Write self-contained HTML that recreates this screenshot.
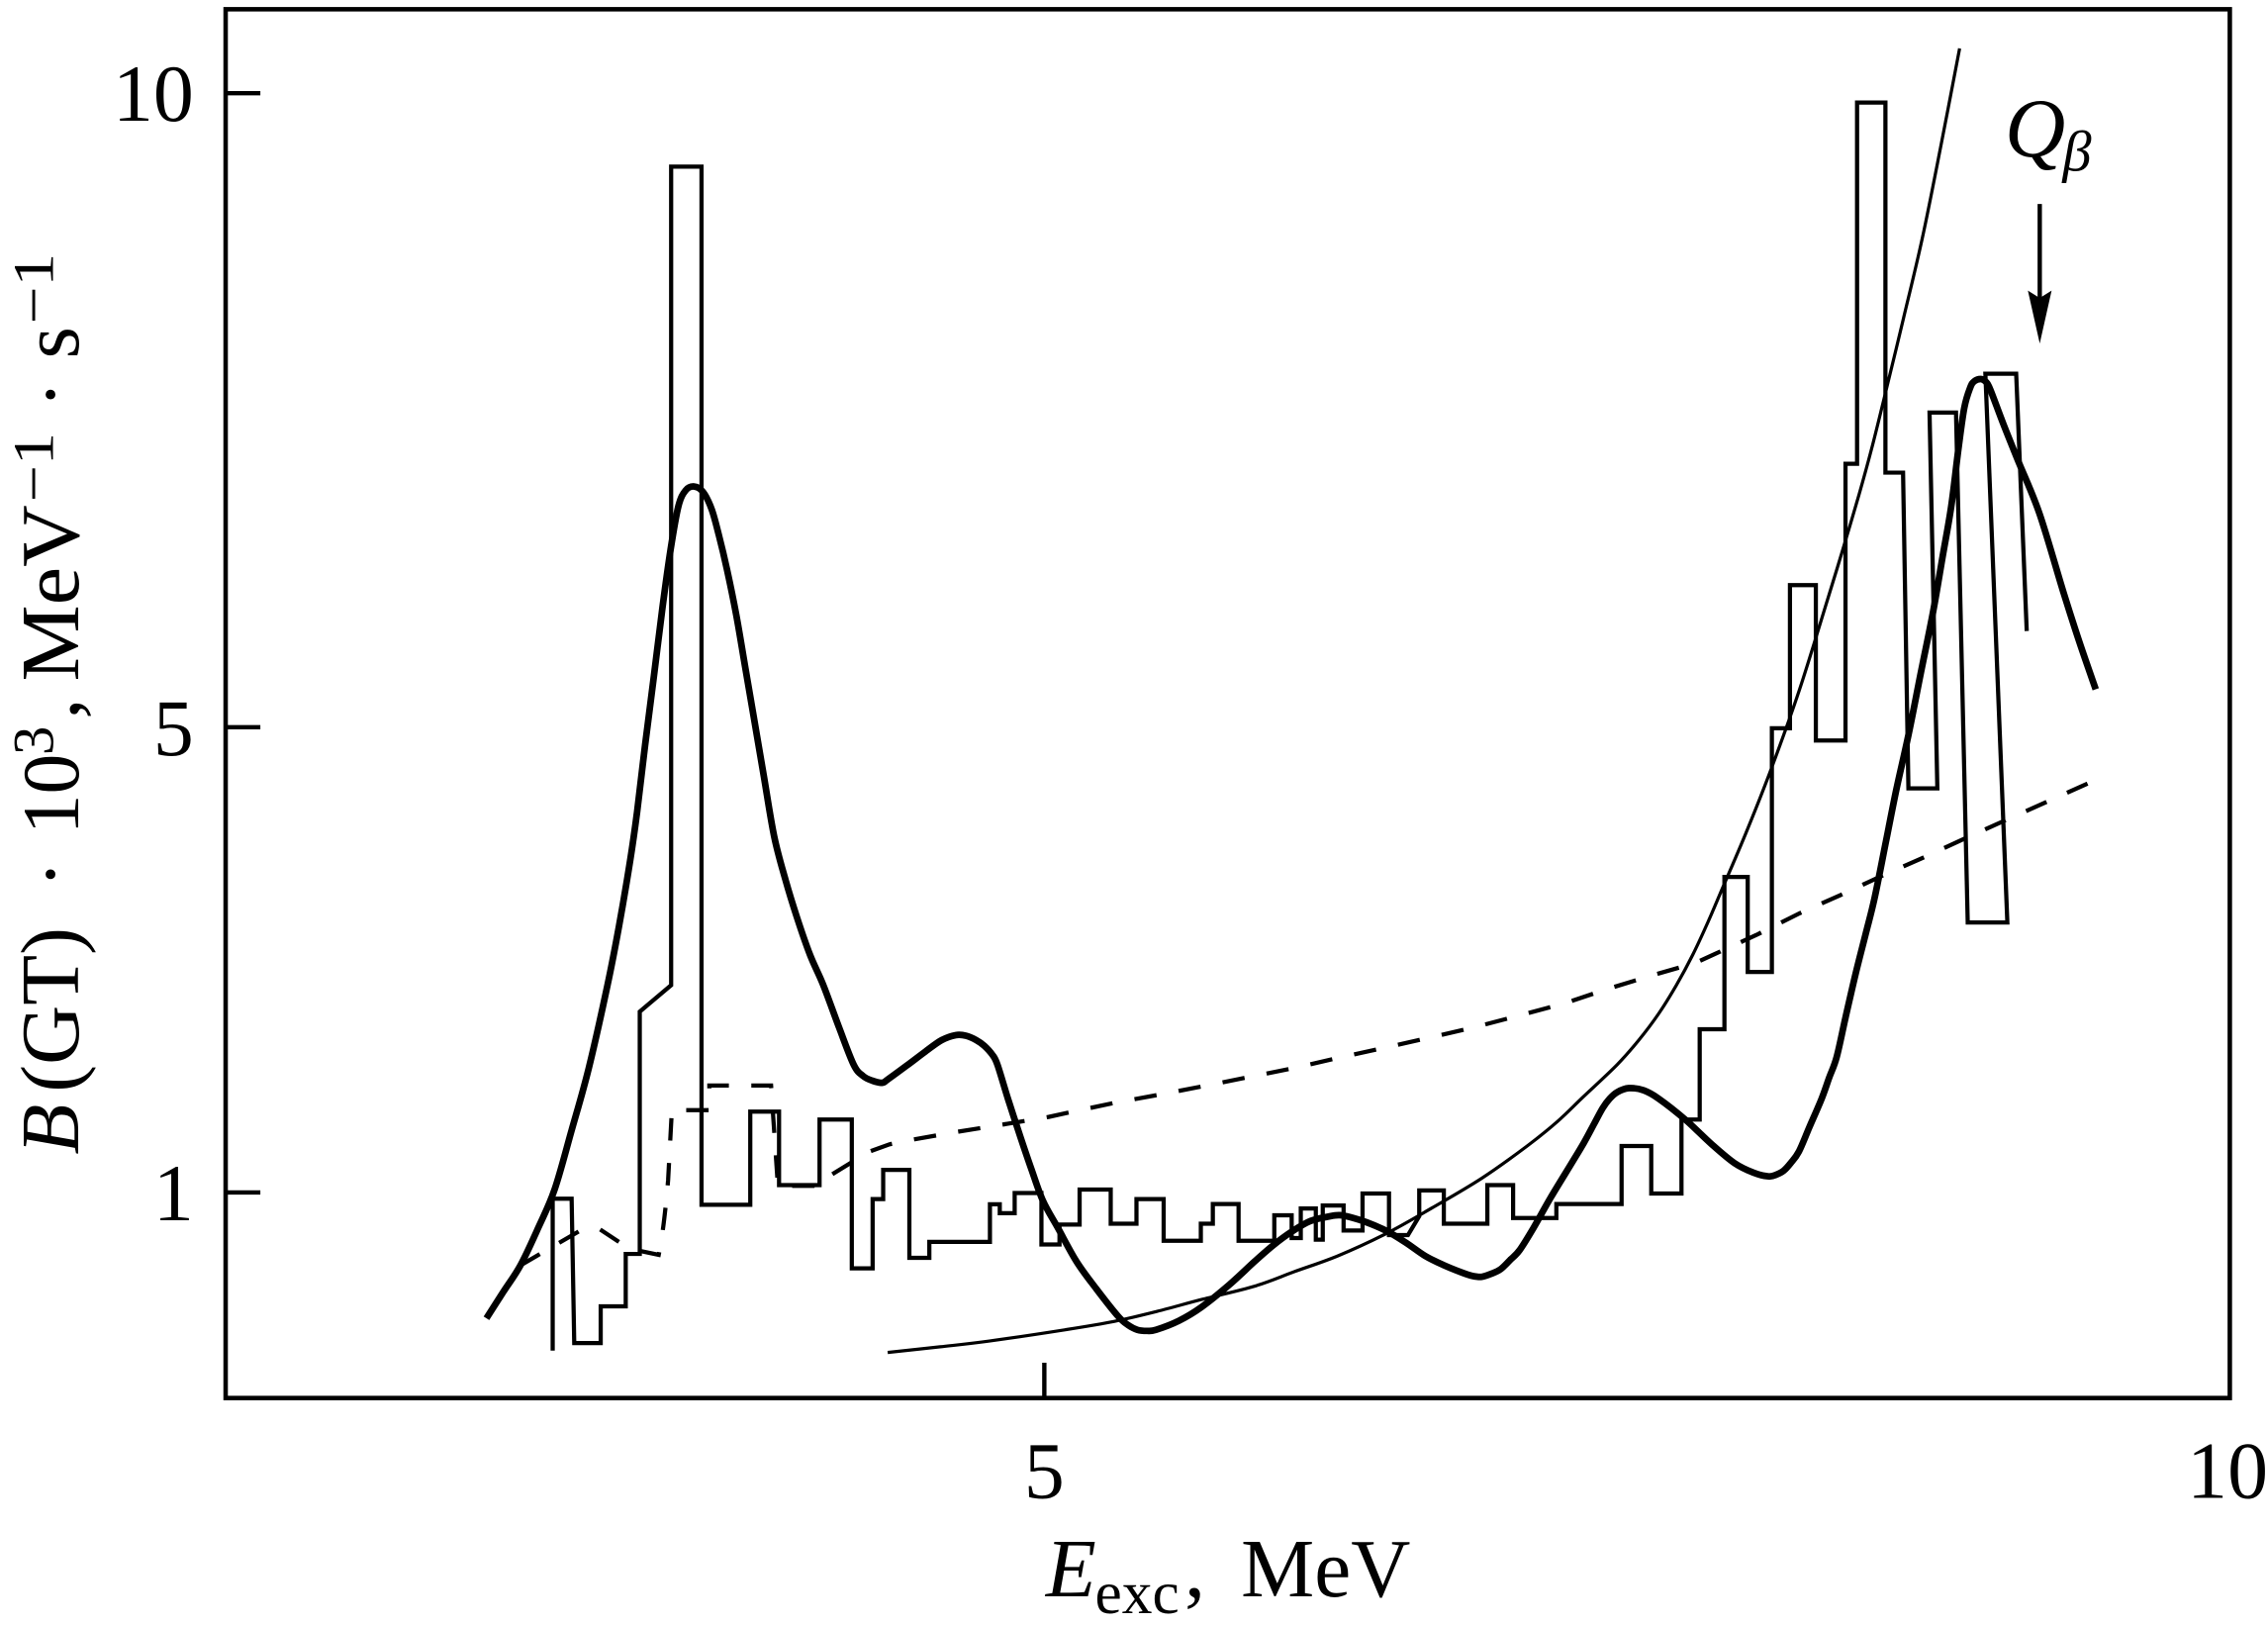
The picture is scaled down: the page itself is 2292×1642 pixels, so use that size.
<!DOCTYPE html>
<html>
<head>
<meta charset="utf-8">
<style>
html,body{margin:0;padding:0;background:#fff;}
svg{display:block;}
text{font-family:"Liberation Serif",serif;fill:#000;}
</style>
</head>
<body>
<svg id="chart" width="2292" height="1642" viewBox="0 0 1568 1123.3" preserveAspectRatio="none" xmlns="http://www.w3.org/2000/svg">
<rect x="0" y="0" width="1568" height="1123.3" fill="#fff"/>
<!-- frame -->
<rect x="156" y="6.4" width="1385.6" height="960" fill="none" stroke="#000" stroke-width="3.1"/>
<!-- ticks -->
<g stroke="#000" stroke-width="3">
<line x1="156" y1="64.4" x2="180" y2="64.4"/>
<line x1="156" y1="502.7" x2="180" y2="502.7"/>
<line x1="156" y1="824.3" x2="180" y2="824.3"/>
<line x1="722" y1="942" x2="722" y2="966"/>
</g>
<!-- tick labels -->
<g font-size="56">
<text x="134" y="83.5" text-anchor="end">10</text>
<text x="134" y="522" text-anchor="end">5</text>
<text x="134" y="843.5" text-anchor="end">1</text>
<text x="722" y="1035.3" text-anchor="middle">5</text>
<text x="1540" y="1035.3" text-anchor="middle">10</text>
</g>
<!-- x label -->
<text x="723" y="1103.6" font-size="57" font-style="italic">E</text>
<text x="757" y="1115" font-size="42">exc</text>
<text x="819" y="1103.6" font-size="57">,</text>
<text x="858" y="1103.6" font-size="57">MeV</text>
<!-- y label -->
<g transform="rotate(-90)">
<text x="-798" y="54" font-size="57" font-style="italic">B</text>
<text x="-755" y="54" font-size="57">(GT)</text>
<text x="-604.3" y="54" font-size="57" text-anchor="middle">·</text>
<text x="-577" y="54" font-size="56">10</text>
<text x="-522" y="36.6" font-size="40">3</text>
<text x="-497" y="54" font-size="57">,</text>
<text x="-471" y="54" font-size="57" textLength="122" lengthAdjust="spacingAndGlyphs">MeV</text>
<text x="-347" y="36.6" font-size="40" textLength="48" lengthAdjust="spacingAndGlyphs">−1</text>
<text x="-272.7" y="54" font-size="57" text-anchor="middle">·</text>
<text x="-248" y="54" font-size="57">s</text>
<text x="-224" y="36.6" font-size="40" textLength="49" lengthAdjust="spacingAndGlyphs">−1</text>
</g>
<!-- Q beta -->
<text x="1386" y="108" font-size="58" font-style="italic">Q</text>
<text x="1426" y="118" font-size="40" font-style="italic">β</text>
<line x1="1410.2" y1="141" x2="1410.2" y2="210" stroke="#000" stroke-width="3"/>
<polygon points="1402,200.9 1410.2,206 1418.4,200.9 1410.2,237.5" fill="#000"/>

<!-- histogram -->
<path fill="none" stroke="#000" stroke-width="2.9" stroke-linejoin="miter" d="M382.1,933.6 V828.6 H395.2 L397,928.4 H415.3 V903 H432.6 V866.8 H442.3 V699.3 L464,681 V115.2 H485 V832.8 H518.7 V768.4 H538.6 V819.2 H566.6 V773.9 H588.9 V876.8 H603.3 V828.9 H610.6 V808.7 H628.7 V869.5 H642.5 V858.5 H684.4 V832.5 H691.2 V838.6 H701.5 V824.7 H720 V860.3 H732.5 V846.5 H746.4 V822.3 H767.9 V845.9 H785.7 V828.9 H804.5 V857.7 H830.2 V845.9 H838.5 V832.3 H856.3 V857.7 H881 V840.1 H893 V855.8 H899.3 V835.4 H909.7 V856.9 H914.5 V833.3 H928.9 V850.6 H942 V825 H960.3 V853.8 H973.4 L981.2,840.7 V822.9 H998.2 V845.9 H1028.3 V819.2 H1046.1 V842 H1076 V832.3 H1121.1 V792.2 H1141.6 V825 H1162.5 V773.9 H1175.1 V711.5 H1192.2 V606.2 H1208.3 V671.9 H1225 V503.4 H1237.5 V404.5 H1255.4 V511.9 H1275.9 V320.6 H1283.9 V70.9 H1303.5 V326.7 H1315.7 L1319.4,545 H1339.4 L1334,285.2 H1352.3 L1360.4,637.7 H1387.8 L1372.6,258.3 H1393.9 L1401.2,436.2"/>

<!-- thin curve -->
<polyline class="smooth" fill="none" stroke="#000" stroke-width="2.2" stroke-linejoin="round" points="613.7,934.9 650,931 684,927 736.5,919.2 770.5,913.4 800,906.5 830.7,898.3 867.3,889.1 895,879 925,868.1 959,852.4 990,835 1024.4,814.5 1055.8,792.2 1076.8,775.2 1094.6,758.2 1118,736 1133,719 1146.8,700.6 1159,681 1170.3,660 1181,637 1191.3,612.9 1207,576 1224.1,532.7 1244,477 1263.2,415.4 1274,380 1285.2,342.1 1294,310 1302.3,276.6 1316,220 1329.1,164.2 1342,100 1354.8,33.5"/>

<!-- dashed curve -->
<path fill="none" stroke="#000" stroke-width="2.9" stroke-dasharray="15.5 15.5" d="M359.8,874.7 L400.4,851.1 Q407,847.5 414.8,849.8 L427.9,858.5 L442.3,864.7 L455.4,867.4 Q459,850 461.9,815.8 L464.5,767.4 H490.4 V750.4 H533.1 L537.8,819.7 H566.6 L573.7,812.7 L600.7,796.2 L615,791 L630.8,787.8 L662.2,782.3 L693.6,777.3 L725,772.1 L740.4,768.7 L771.8,762.1 L803.2,756.4 L834.6,750.3 L864.7,744.3 L896.1,738 L927.6,730.7 L957.7,724.2 L989.1,717.1 L1020.5,709.8 L1050.6,701.9 L1082,693.5 L1111.4,683.6 L1141.6,674.4 L1171.7,665.8 L1186.2,659.2 L1214.3,646.3 L1243.6,631.6 L1272.5,618.7 L1301,605.5 L1330.4,592.5 L1358.5,579.6 L1387.8,566.4 L1417.1,553.4 L1445.9,540.5"/>

<!-- thick curve -->
<polyline class="smooth" fill="none" stroke="#000" stroke-width="4.6" stroke-linejoin="round" points="336.3,911.3 348,893 359.8,874.7 372,849 383.4,822.3 395,782 407,738.6 420,681 428,640 435.7,594.6 440.5,561 446,515 452,468 458,420 463.6,380 469,350 474,339 479.9,336.3 486,340 492,352 497,370 502.6,393.6 509,425 515,460 521,495 528,536 535.2,578 543,608 550.9,633.9 560,660 569.2,681 580,710 590.2,736 596.7,743.8 603,747 609.8,748.5 614,746 627,736.5 639.9,726.8 651,719 660.9,715.5 668,716 675,719 680.5,722.9 686,729 689.6,736 697,760 705.4,785.7 713,808 721.1,830.2 731.2,848.5 744.3,872.1 758,891 773.1,910 780,916 786.2,919.2 793,920 799.3,919.2 815,913 830.7,903.5 850,888 867.3,872.1 880,861 893.5,851.1 906,844 919.7,840.7 926,840 932.8,841.2 945,845 959,851.1 972,859 985.2,868.1 998,874.5 1011.3,879.9 1018,882 1024.4,882.6 1031,880.5 1037.5,877.3 1044,871 1050.6,864.2 1060.4,848.5 1072,828 1086.6,804 1095,790 1102.3,776.5 1108,766 1112.8,759.5 1118,755 1126,752.2 1136.3,753.7 1146.8,759.5 1165.1,773.9 1183.4,791 1199.1,804 1212.2,810.6 1222.7,813.2 1228,812 1233.2,809.2 1238,804 1243.6,796.2 1251,779 1259.4,759.5 1264.6,745 1269.8,730.7 1276,703 1282.9,673.1 1290,645 1296,620.8 1303.9,581.5 1311,546 1319.4,508.2 1328,465 1336.5,422.7 1343,385 1349,350 1354,310 1358,282 1362.1,268 1365,263.5 1369.5,262 1373,264 1376,269.3 1385,293 1395.1,318.2 1410,355 1426.9,410.5 1438,445 1448.9,476.5"/>
</svg>
<script>
(function(){
  try{
    var ns="http://www.w3.org/2000/svg";
    var pls=document.querySelectorAll("polyline.smooth");
    for(var k=0;k<pls.length;k++){
      var pl=pls[k];
      var raw=pl.getAttribute("points").trim().split(/\s+/);
      var p=[];
      for(var i=0;i<raw.length;i++){var xy=raw[i].split(",");p.push([parseFloat(xy[0]),parseFloat(xy[1])]);}
      if(p.length<3) continue;
      var d="M"+p[0][0]+","+p[0][1];
      for(var i=0;i<p.length-1;i++){
        var p0=p[i>0?i-1:i],p1=p[i],p2=p[i+1],p3=p[i+2<p.length?i+2:i+1];
        var c1x=p1[0]+(p2[0]-p0[0])/6,c1y=p1[1]+(p2[1]-p0[1])/6;
        var c2x=p2[0]-(p3[0]-p1[0])/6,c2y=p2[1]-(p3[1]-p1[1])/6;
        d+=" C"+c1x.toFixed(2)+","+c1y.toFixed(2)+" "+c2x.toFixed(2)+","+c2y.toFixed(2)+" "+p2[0]+","+p2[1];
      }
      var path=document.createElementNS(ns,"path");
      path.setAttribute("d",d);
      path.setAttribute("fill","none");
      path.setAttribute("stroke",pl.getAttribute("stroke"));
      path.setAttribute("stroke-width",pl.getAttribute("stroke-width"));
      path.setAttribute("stroke-linejoin","round");
      pl.parentNode.insertBefore(path,pl);
      pl.parentNode.removeChild(pl);
    }
  }catch(e){}
})();
</script>
</body>
</html>
